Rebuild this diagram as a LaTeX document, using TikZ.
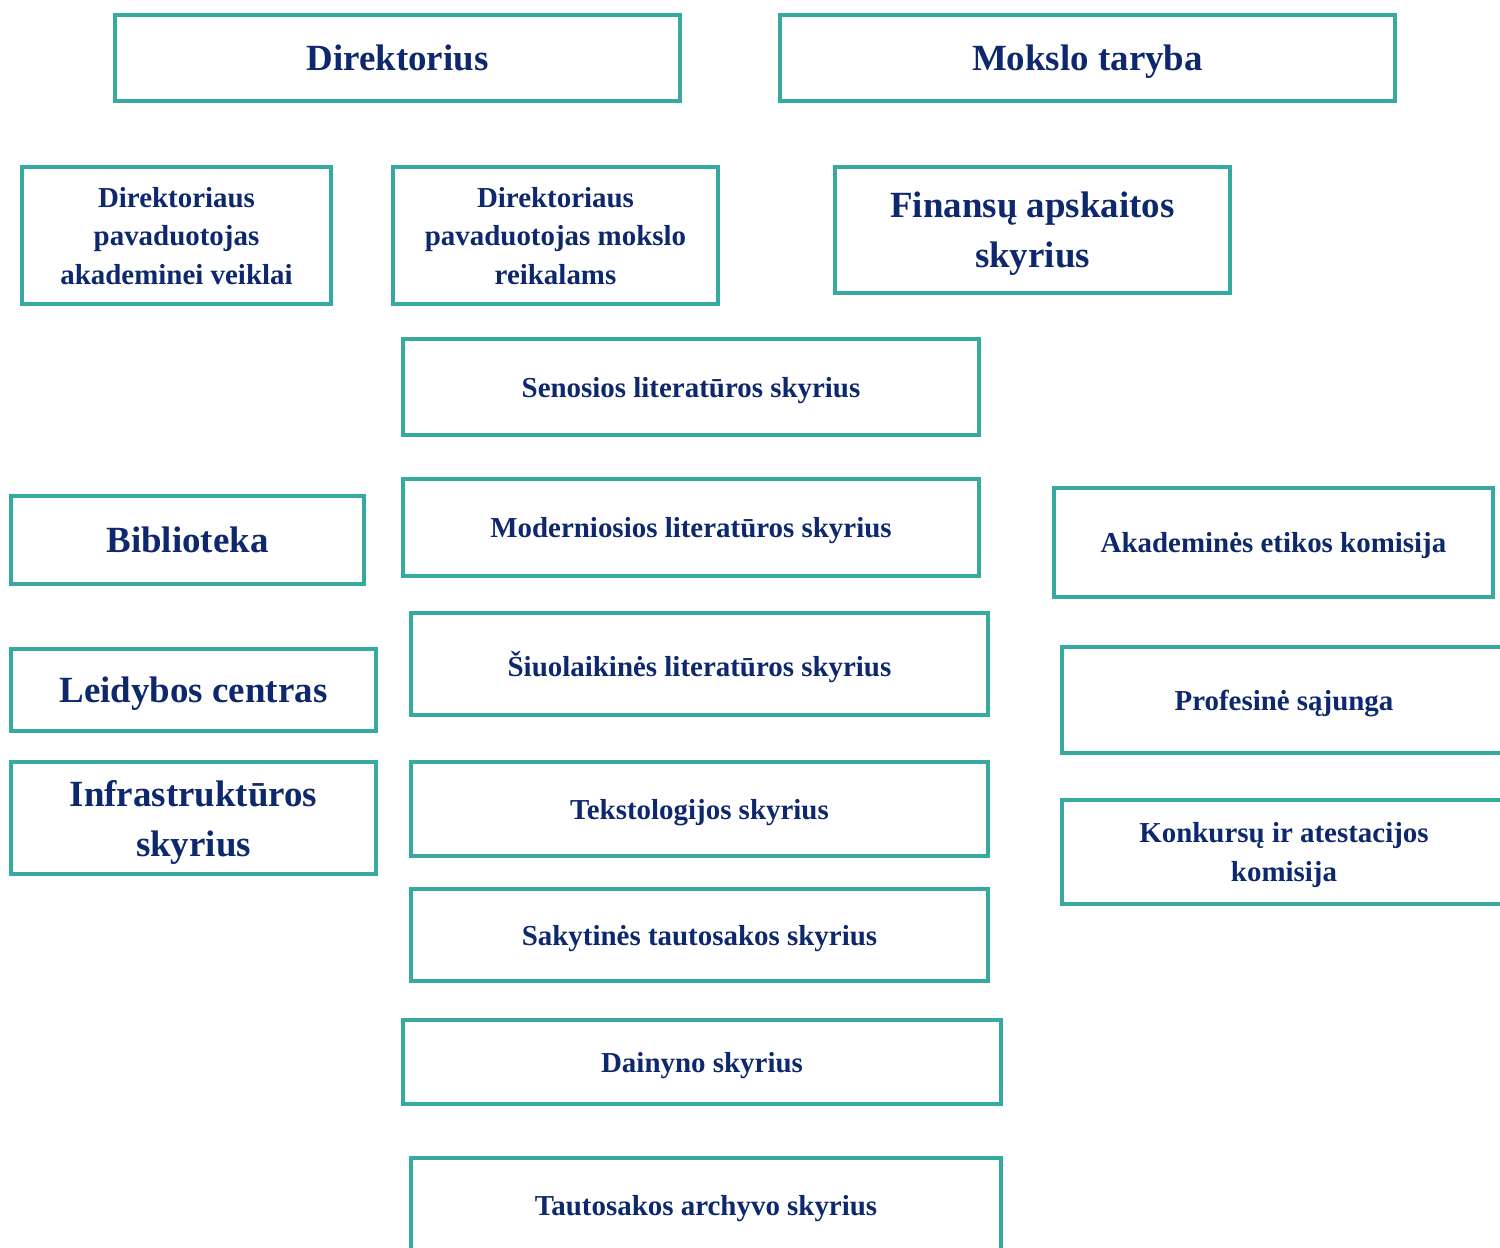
\documentclass[tikz,border=0pt]{standalone}
\usepackage{fontspec}
\setmainfont{Liberation Serif}
\usetikzlibrary{fit}

\definecolor{boxteal}{RGB}{54,170,160}
\definecolor{textnavy}{RGB}{14,40,110}

\tikzset{
  orgbox/.style={draw=boxteal, line width=3.4pt, inner sep=0pt},
  bigtext/.style={align=center, text=textnavy, inner sep=0pt, text depth=0pt,
    font=\bfseries\fontsize{27.7pt}{37.5pt}\selectfont},
  smalltext/.style={align=center, text=textnavy, inner sep=0pt, text depth=0pt,
    font=\bfseries\fontsize{21.7pt}{28.9pt}\selectfont}
}

\begin{document}
\begin{tikzpicture}[x=0.75pt, y=-0.75pt]

  \useasboundingbox (0,0) rectangle (1500,1247);
  \clip (0,0) rectangle (1500,1247);

  % top row
  \node[orgbox, fit={(115,15) (680,101)}, label={[bigtext]center:Direktorius}] (direktorius) {};
  \node[orgbox, fit={(780,15) (1395,101)}, label={[bigtext]center:Mokslo taryba}] (taryba) {};

  % deputies
  \node[orgbox, fit={(22,167) (331,304)}, label={[smalltext]center:{Direktoriaus\\pavaduotojas\\akademinei veiklai}}] (pavakad) {};
  \node[orgbox, fit={(393,167) (718,304)}, label={[smalltext]center:{Direktoriaus\\pavaduotojas mokslo\\reikalams}}] (pavmoksl) {};
  \node[orgbox, fit={(835,167) (1230,293)}, label={[bigtext]center:{Finansų apskaitos\\skyrius}}] (finansai) {};

  % left column
  \node[orgbox, fit={(11,496) (364,584)}, label={[bigtext]center:Biblioteka}] (biblioteka) {};
  \node[orgbox, fit={(11,649) (376,731)}, label={[bigtext]center:Leidybos centras}] (leidyba) {};
  \node[orgbox, fit={(11,762) (376,874)}, label={[bigtext]center:{Infrastruktūros\\skyrius}}] (infra) {};

  % middle column
  \node[orgbox, fit={(403,339) (979,435)}, label={[smalltext]center:Senosios literatūros skyrius}] (senoji) {};
  \node[orgbox, fit={(403,479) (979,576)}, label={[smalltext]center:Moderniosios literatūros skyrius}] (moderni) {};
  \node[orgbox, fit={(411,613) (988,715)}, label={[smalltext]center:Šiuolaikinės literatūros skyrius}] (siuolaik) {};
  \node[orgbox, fit={(411,762) (988,856)}, label={[smalltext]center:Tekstologijos skyrius}] (tekstol) {};
  \node[orgbox, fit={(411,889) (988,981)}, label={[smalltext]center:Sakytinės tautosakos skyrius}] (sakytine) {};
  \node[orgbox, fit={(403,1020) (1001,1104)}, label={[smalltext]center:Dainyno skyrius}] (dainynas) {};
  \node[orgbox, fit={(411,1158) (1001,1252)}, label={[smalltext]center:Tautosakos archyvo skyrius}] (archyvas) {};

  % right column
  \node[orgbox, fit={(1054,488) (1493,597)}, label={[smalltext]center:Akademinės etikos komisija}] (etika) {};
  \node[orgbox, fit={(1062,647) (1506,753)}, label={[smalltext]center:Profesinė sąjunga}] (sajunga) {};
  \node[orgbox, fit={(1062,800) (1506,904)}, label={[smalltext]center:{Konkursų ir atestacijos\\komisija}}] (konkursai) {};

\end{tikzpicture}
\end{document}
